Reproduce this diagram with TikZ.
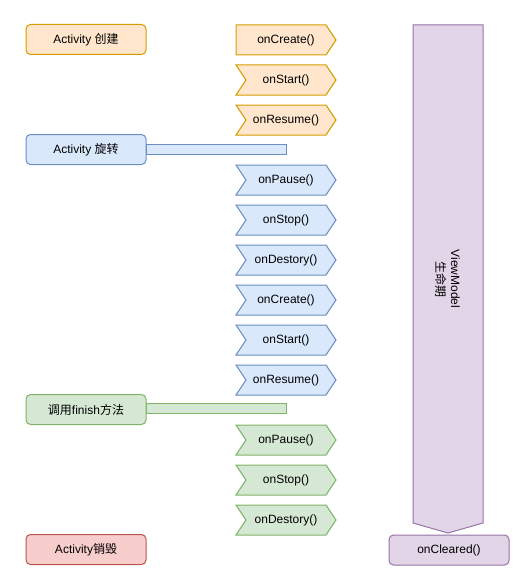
\documentclass[tikz,border=0pt]{standalone}
\usepackage{fontspec}
\setmainfont{Liberation Sans}
\newfontfamily\cjk{Noto Sans CJK SC}
\definecolor{oF}{HTML}{FFE6CC}\definecolor{oD}{HTML}{D79B00}
\definecolor{bF}{HTML}{DAE8FC}\definecolor{bD}{HTML}{6C8EBF}
\definecolor{gF}{HTML}{D5E8D4}\definecolor{gD}{HTML}{82B366}
\definecolor{rF}{HTML}{F8CECC}\definecolor{rD}{HTML}{B85450}
\definecolor{pF}{HTML}{E1D5E7}\definecolor{pD}{HTML}{9673A6}
\tikzset{
  orangeS/.style={fill=oF,draw=oD},
  blueS/.style={fill=bF,draw=bD},
  greenS/.style={fill=gF,draw=gD},
  redS/.style={fill=rF,draw=rD},
  purpleS/.style={fill=pF,draw=pD},
  lbl/.style={font=\fontsize{12}{14}\selectfont,text=black,inner sep=0pt},
  roundbox/.style={rounded corners=4.5pt,minimum width=120pt,minimum height=30pt,font=\fontsize{12}{14}\selectfont,inner sep=0pt},
}
\newcommand{\stepbox}[4]{%
  \draw[#4] (236,#2) -- (326,#2) -- (336,#2+15) -- (326,#2+30) -- (236,#2+30) -- (246,#2+15) -- cycle;
  \node[lbl] (#1) at (286,#2+15) {#3};}
\newcommand{\firststep}[4]{%
  \draw[#4] (236,#2) -- (326,#2) -- (336,#2+15) -- (326,#2+30) -- (236,#2+30) -- cycle;
  \node[lbl] (#1) at (286,#2+15) {#3};}
\begin{document}
\begin{tikzpicture}[x=1pt,y=-1pt,line width=1pt,line join=miter]
\useasboundingbox (0,0) rectangle (529,586);
% left boxes
\node[roundbox,orangeS] (create) at (86,39.5) {Activity {\cjk 创建}};
\node[roundbox,blueS] (rotate) at (86,149.5) {Activity {\cjk 旋转}};
\node[roundbox,greenS] (finish) at (86,409.5) {{\cjk 调用}finish{\cjk 方法}};
\node[roundbox,redS] (destroy) at (86,549.5) {Activity{\cjk 销毁}};
% bars
\draw[blueS] (146,144) rectangle (286,154);
\coordinate (rbar) at (286,149);
\draw[greenS] (146,403) rectangle (286,413);
\coordinate (gbar) at (286,408);
% steps
\firststep{s1}{25}{onCreate()}{orangeS}
\stepbox{s2}{65}{onStart()}{orangeS}
\stepbox{s3}{105}{onResume()}{orangeS}
\stepbox{s4}{165}{onPause()}{blueS}
\stepbox{s5}{205}{onStop()}{blueS}
\stepbox{s6}{245}{onDestory()}{blueS}
\stepbox{s7}{285}{onCreate()}{blueS}
\stepbox{s8}{325}{onStart()}{blueS}
\stepbox{s9}{365}{onResume()}{blueS}
\stepbox{s10}{425}{onPause()}{greenS}
\stepbox{s11}{465}{onStop()}{greenS}
\stepbox{s12}{505}{onDestory()}{greenS}
% ViewModel arrow
\draw[purpleS] (413,25) -- (483,25) -- (483,523) -- (448,533) -- (413,523) -- cycle;
\node[lbl,rotate=-90,align=center,font=\fontsize{12}{15}\selectfont] (vm) at (447.5,279) {ViewModel\\{\cjk 生命期}};
\node[roundbox,purpleS] (cleared) at (449,550) {onCleared()};
\end{tikzpicture}
\end{document}
